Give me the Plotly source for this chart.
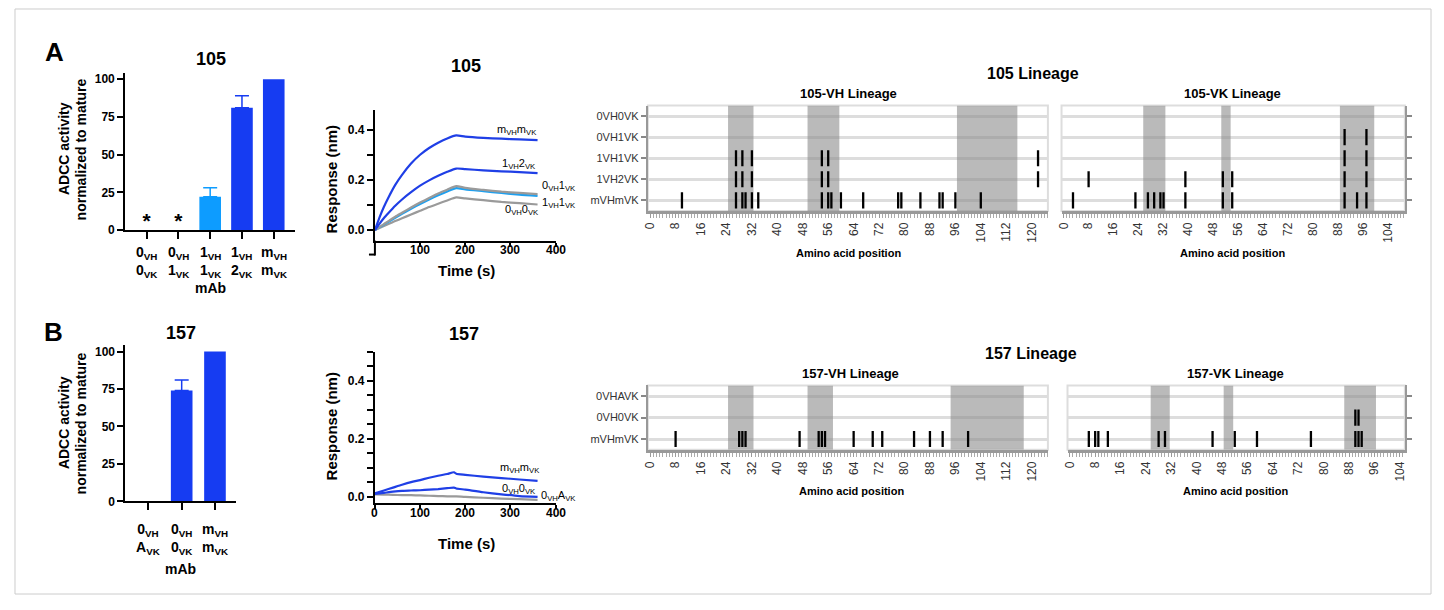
import plotly.graph_objects as go

# The page body has an 8px margin, so the figure is sized to fit the window
# and every reference pixel position is shifted by that margin.
OFF = 8
W, H = 1444 - 2 * OFF, 610 - 2 * OFF
FONT = "Liberation Sans, Arial, Helvetica, sans-serif"


def fx(px):
    return (px - OFF) / W


def fy(py):
    return 1 - (py - OFF) / H


# ---------------- data ----------------
# ADCC bars
adcc105_labels = ["0<sub>VH</sub><br>0<sub>VK</sub>", "0<sub>VH</sub><br>1<sub>VK</sub>",
                  "1<sub>VH</sub><br>1<sub>VK</sub>", "1<sub>VH</sub><br>2<sub>VK</sub>",
                  "m<sub>VH</sub><br>m<sub>VK</sub>"]
adcc105_values = [0, 0, 22, 81, 100]
adcc105_err = [0, 0, 6, 8, 0]
adcc105_star = [1, 1, 0, 0, 0]
adcc105_colors = ["#163cf2", "#163cf2", "#0d9cff", "#163cf2", "#163cf2"]

adcc157_labels = ["0<sub>VH</sub><br>A<sub>VK</sub>", "0<sub>VH</sub><br>0<sub>VK</sub>",
                  "m<sub>VH</sub><br>m<sub>VK</sub>"]
adcc157_values = [0, 74, 100]
adcc157_err = [0, 7, 0]
adcc157_colors = ["#163cf2", "#163cf2", "#163cf2"]

# BLI sensorgrams (time s, response nm)
bli105_time = [0, 10, 20, 30, 45, 60, 80, 100, 120, 140, 160, 180, 200, 240, 280, 320, 360]
bli105_mm = [0, 0.05, 0.093, 0.13, 0.18, 0.22, 0.265, 0.30, 0.327, 0.348, 0.365, 0.377, 0.372, 0.367, 0.364, 0.361, 0.358]
bli105_12 = [0, 0.025, 0.048, 0.068, 0.097, 0.122, 0.151, 0.177, 0.198, 0.216, 0.232, 0.245, 0.243, 0.238, 0.234, 0.231, 0.227]
bli105_01 = [0, 0.012, 0.024, 0.036, 0.053, 0.069, 0.09, 0.11, 0.128, 0.146, 0.161, 0.175, 0.168, 0.160, 0.153, 0.148, 0.143]
bli105_11 = [0, 0.011, 0.022, 0.033, 0.049, 0.065, 0.085, 0.104, 0.122, 0.139, 0.154, 0.167, 0.162, 0.155, 0.148, 0.141, 0.136]
bli105_00 = [0, 0.008, 0.016, 0.024, 0.036, 0.047, 0.062, 0.077, 0.092, 0.105, 0.118, 0.13, 0.126, 0.119, 0.112, 0.107, 0.102]
bli105_xticks = [100, 200, 300, 400]

bli157_time = [0, 20, 40, 60, 80, 100, 120, 140, 160, 175, 180, 200, 240, 280, 320, 360]
bli157_mm = [0.012, 0.022, 0.032, 0.042, 0.051, 0.058, 0.066, 0.073, 0.079, 0.085, 0.080, 0.076, 0.070, 0.065, 0.060, 0.055]
bli157_00 = [0.010, 0.014, 0.018, 0.021, 0.022, 0.023, 0.025, 0.027, 0.030, 0.032, 0.029, 0.025, 0.016, 0.009, 0.003, 0.0]
bli157_0A = [0.009, 0.008, 0.007, 0.006, 0.006, 0.005, 0.004, 0.003, 0.002, 0.002, 0.002, 0.0, -0.003, -0.006, -0.008, -0.010]
bli157_xticks = [0, 100, 200, 300, 400]

# Lineage mutation maps
rows105 = ["0VH0VK", "0VH1VK", "1VH1VK", "1VH2VK", "mVHmVK"]
vh105_muts = [[], [], [27, 29, 32, 54, 56, 122], [27, 29, 32, 54, 56, 122],
              [10, 27, 29, 30, 32, 34, 54, 56, 57, 60, 67, 78, 79, 85, 91, 92, 96, 104]]
vh105_cdr = [[24.5, 32.5], [49.5, 59.5], [96.5, 115.5]]
vk105_muts = [[], [90, 97], [90, 97], [8, 39, 51, 54, 90, 97],
              [3, 23, 27, 29, 31, 32, 39, 51, 54, 90, 94, 97]]
vk105_cdr = [[25.5, 32.6], [50.5, 53.5], [88.5, 99.5]]

rows157 = ["0VHAVK", "0VH0VK", "mVHmVK"]
vh157_muts = [[], [], [8, 28, 29, 30, 47, 53, 54, 55, 64, 70, 73, 83, 88, 92, 100]]
vh157_cdr = [[24.5, 32.5], [49.5, 57.5], [94.5, 117.5]]
vk157_muts = [[], [90, 91], [6, 8, 9, 12, 28, 30, 45, 52, 59, 76, 90, 91, 92]]
vk157_cdr = [[25.5, 31.5], [48.5, 51.5], [86.5, 96.5]]

BLUE = "#1f3fe6"
LBLUE = "#1ea0f0"
GRAY = "#9a9a9a"

fig = go.Figure()
shapes = []
annotations = []


def ann(text, x, y, size=12, bold=True, angle=0, xanchor="center", color="black", xref="paper"):
    annotations.append(dict(text=("<b>%s</b>" % text) if bold else text,
                            x=fx(x) if xref == "paper" else x, y=fy(y),
                            xref=xref, yref="paper", showarrow=False, xanchor=xanchor,
                            yanchor="middle", textangle=angle,
                            font=dict(family=FONT, size=size, color=color)))


# ---------------- bar charts ----------------
def bars(values, errs, colors, stars, labels, ax, width, label_y):
    for i, (v, e, c) in enumerate(zip(values, errs, colors)):
        fig.add_trace(go.Bar(x=[i], y=[v], width=width, marker=dict(color=c, line=dict(width=0)),
                             error_y=dict(type="data", array=[e], arrayminus=[0], symmetric=False,
                                          color=c, thickness=1.5, width=7, visible=e > 0),
                             xaxis="x" + ax, yaxis="y" + ax, showlegend=False, hoverinfo="skip"))
    sx = [i for i, s in enumerate(stars) if s]
    if sx:
        fig.add_trace(go.Scatter(x=sx, y=[4.5] * len(sx), mode="text", text=["<b>*</b>"] * len(sx),
                                 textfont=dict(family=FONT, size=21, color="black"),
                                 xaxis="x" + ax, yaxis="y" + ax, showlegend=False, hoverinfo="skip"))
    for i, lab in enumerate(labels):
        ann(lab, i, label_y, size=14, xref="x" + ax)


bars(adcc105_values, adcc105_err, adcc105_colors, adcc105_star, adcc105_labels, "", 0.68, 265)
bars(adcc157_values, adcc157_err, adcc157_colors, [0, 0, 0], adcc157_labels, "5", 0.65, 545)

# ---------------- BLI ----------------
def line(t, y, color, ax):
    fig.add_trace(go.Scatter(x=t, y=y, mode="lines", line=dict(color=color, width=2.2, shape="spline", smoothing=0.6),
                             xaxis="x" + ax, yaxis="y" + ax, showlegend=False, hoverinfo="skip"))


line(bli105_time, bli105_00, GRAY, "2")
line(bli105_time, bli105_11, LBLUE, "2")
line(bli105_time, bli105_01, GRAY, "2")
line(bli105_time, bli105_12, BLUE, "2")
line(bli105_time, bli105_mm, BLUE, "2")

line(bli157_time, bli157_0A, GRAY, "6")
line(bli157_time, bli157_00, BLUE, "6")
line(bli157_time, bli157_mm, BLUE, "6")

for t in bli105_xticks:
    ann(str(t), t, 253, size=12, xref="x2")
for t in bli157_xticks:
    ann(str(t), t, 519, size=12, xref="x6")

# ---------------- lineage maps ----------------
def lineage(muts, cdrs, ax, nrows):
    for r, pos in enumerate(muts):
        if pos:
            fig.add_trace(go.Scatter(x=pos, y=[r] * len(pos), mode="markers",
                                     marker=dict(symbol="line-ns", size=11.5,
                                                 line=dict(color="black", width=2.3)),
                                     xaxis="x" + ax, yaxis="y" + ax, showlegend=False, hoverinfo="skip"))
    for a, b in cdrs:
        shapes.append(dict(type="rect", xref="x" + ax, yref="y" + ax, x0=a, x1=b, y0=-0.5, y1=nrows - 0.5,
                           fillcolor="rgba(140,140,140,0.6)", line=dict(width=0), layer="between"))
    shapes.append(dict(type="rect", xref="x%s domain" % ax, yref="y%s domain" % ax, x0=0, x1=1, y0=0, y1=1,
                       line=dict(color="#dddddd", width=2), layer="below"))


lineage(vh105_muts, vh105_cdr, "3", 5)
lineage(vk105_muts, vk105_cdr, "4", 5)
lineage(vh157_muts, vh157_cdr, "7", 3)
lineage(vk157_muts, vk157_cdr, "8", 3)

# ---------------- axes ----------------
boldtick = dict(family=FONT, size=12, color="black", weight="bold")
lay = {}


def bar_axes(xa, ya, xdom, ydom, xr, yr, n):
    lay["xaxis" + xa] = dict(domain=[fx(xdom[0]), fx(xdom[1])], anchor="y" + xa, range=xr,
                             tickmode="array", tickvals=list(range(n)), showticklabels=False,
                             ticks="outside", ticklen=7, tickwidth=2, tickcolor="black",
                             showline=True, linecolor="black", linewidth=2, showgrid=False,
                             zeroline=False)
    lay["yaxis" + ya] = dict(domain=[fy(ydom[0]), fy(ydom[1])], anchor="x" + ya, range=yr,
                             tickmode="array", tickvals=[0, 25, 50, 75, 100],
                             ticks="outside", ticklen=6, tickwidth=2, tickcolor="black",
                             showline=True, linecolor="black", linewidth=2, showgrid=False,
                             zeroline=False, tickfont=boldtick)


bar_axes("", "", (120.7, 291.6), (232.7, 73.3), [-0.675, 4.675], [0, 104.4], 5)
bar_axes("5", "5", (121, 231.7), (507.3, 349.3), [-0.69, 2.62], [0, 104.2], 3)


def bli_axes(a, ydom, yr, xvals, minor_dt):
    lay["xaxis" + a] = dict(domain=[fx(371.7), fx(553.3)], range=[0, 400], anchor="y" + a,
                            tickmode="array", tickvals=xvals, showticklabels=False,
                            ticks="outside", ticklen=4, tickwidth=2, tickcolor="black", showline=True,
                            linecolor="black", linewidth=2, showgrid=False, zeroline=False)
    lay["yaxis" + a] = dict(domain=[fy(ydom[0]), fy(ydom[1])], anchor="x" + a, range=yr,
                            dtick=0.2, tick0=0, tickformat=".1f",
                            ticks="outside", ticklen=6, tickwidth=2, tickcolor="black",
                            minor=dict(dtick=minor_dt, tick0=0, ticks="outside", ticklen=6, tickwidth=2,
                                       tickcolor="black", showgrid=False),
                            showline=True, linecolor="black", linewidth=2, showgrid=False,
                            zeroline=False, tickfont=boldtick)


bli_axes("2", (243.4, 110.8), [-0.042, 0.48], bli105_xticks, 0.1)
bli_axes("6", (508.6, 356), [-0.02, 0.5], bli157_xticks, 0.05)

# y axis of panel A BLI continues below the time axis (Prism-style offset)
shapes.append(dict(type="line", xref="paper", yref="paper", x0=fx(371.7), x1=fx(371.7),
                   y0=fy(258.5), y1=fy(243.4), line=dict(color="black", width=2)))
shapes.append(dict(type="line", xref="paper", yref="paper", x0=fx(365.7), x1=fx(371.7),
                   y0=fy(257.5), y1=fy(257.5), line=dict(color="black", width=2)))


def lin_axes(a, xdom, ydom, xr, rows, right):
    lay["xaxis" + a] = dict(domain=[fx(xdom[0]), fx(xdom[1])], anchor="y" + a, range=xr,
                            tickmode="linear", tick0=0, dtick=8, tickangle=-90,
                            ticks="outside", ticklen=4, tickwidth=1, tickcolor="#999999",
                            minor=dict(dtick=1, tick0=0, ticks="outside", ticklen=4, tickwidth=1,
                                       tickcolor="#aaaaaa", showgrid=False),
                            showline=True, linecolor="#999999", linewidth=3, showgrid=False,
                            zeroline=False, tickfont=dict(family=FONT, size=12, color="#333333"))
    lay["yaxis" + a] = dict(domain=[fy(ydom[0]), fy(ydom[1])], anchor="x" + a,
                            range=[len(rows) - 0.5, -0.5], tickmode="array",
                            tickvals=list(range(len(rows))), ticktext=rows,
                            side="right" if right else "left", showticklabels=not right,
                            ticks="outside", ticklen=5, tickwidth=2, tickcolor="#888888",
                            showline=True, linecolor="#999999", linewidth=2,
                            showgrid=True, gridcolor="#dddddd", gridwidth=2.5, zeroline=False,
                            tickfont=dict(family=FONT, size=11, color="#333333"))


lin_axes("3", (646, 1048), (213.3, 106.7), [-0.72, 125.1], rows105, False)
lin_axes("4", (1061.7, 1406.7), (213.3, 106.7), [-0.67, 109.3], rows105, True)
lin_axes("7", (646, 1048), (455, 390), [-0.72, 125.1], rows157, False)
lin_axes("8", (1067.7, 1406.7), (455, 390), [-0.72, 105.6], rows157, True)

# ---------------- text ----------------
ann("A", 50, 53, size=26)
ann("B", 49, 336, size=26)

ann("105", 206.7, 60, size=18)
ann("ADCC activity", 59.3, 150.7, size=14, angle=-90)
ann("normalized to mature", 76.7, 150.7, size=14, angle=-90)
ann("mAb", 206.7, 291, size=14)

ann("157", 176.7, 336.7, size=18)
ann("ADCC activity", 59.3, 428, size=14, angle=-90)
ann("normalized to mature", 76.7, 428, size=14, angle=-90)
ann("mAb", 176.7, 576, size=14)

ann("105", 463.3, 66.7, size=18)
ann("Response (nm)", 328.3, 181.7, size=15, angle=-90)
ann("Time (s)", 463.3, 273.3, size=15)
ann("157", 461.7, 338.3, size=18)
ann("Response (nm)", 328.3, 431.7, size=15, angle=-90)
ann("Time (s)", 463.3, 550, size=15)

ann("m<sub>VH</sub>m<sub>VK</sub>", 514, 131, size=11, bold=False)
ann("1<sub>VH</sub>2<sub>VK</sub>", 516, 166, size=11, bold=False)
ann("0<sub>VH</sub>1<sub>VK</sub>", 538, 188, size=11, bold=False, xanchor="left")
ann("1<sub>VH</sub>1<sub>VK</sub>", 538, 205, size=11, bold=False, xanchor="left")
ann("0<sub>VH</sub>0<sub>VK</sub>", 520, 212, size=11, bold=False)
ann("m<sub>VH</sub>m<sub>VK</sub>", 517, 473, size=11, bold=False)
ann("0<sub>VH</sub>0<sub>VK</sub>", 516.7, 495, size=11, bold=False)
ann("0<sub>VH</sub>A<sub>VK</sub>", 537, 502, size=11, bold=False, xanchor="left")

ann("105 Lineage", 1033, 74, size=16)
ann("105-VH Lineage", 847.5, 94.3, size=13)
ann("105-VK Lineage", 1234, 94.3, size=13)
ann("Amino acid position", 848, 256, size=11)
ann("Amino acid position", 1234, 256, size=11)

ann("157 Lineage", 1031, 357.5, size=16)
ann("157-VH Lineage", 850, 378.3, size=13)
ann("157-VK Lineage", 1237, 378.3, size=13)
ann("Amino acid position", 851, 497, size=11)
ann("Amino acid position", 1237, 497, size=11)

# outer frame
shapes.append(dict(type="rect", xref="paper", yref="paper", x0=fx(10), x1=fx(1433), y0=fy(601), y1=fy(9),
                   line=dict(color="#cccccc", width=1), layer="below"))

fig.update_layout(width=W, height=H, margin=dict(l=0, r=0, t=0, b=0), paper_bgcolor="white",
                  plot_bgcolor="rgba(0,0,0,0)", barmode="overlay", showlegend=False,
                  font=dict(family=FONT, color="black"), shapes=shapes, annotations=annotations, **lay)

fig.write_html("out.html")
